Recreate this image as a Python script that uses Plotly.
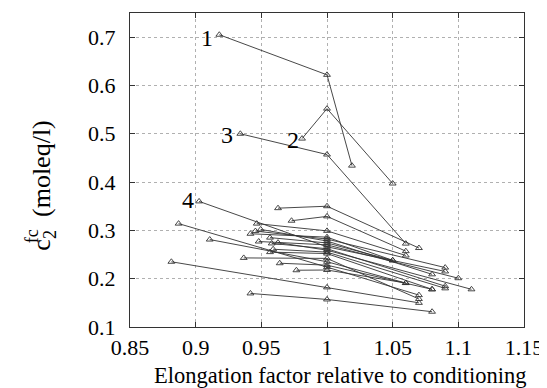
import plotly.graph_objects as go

# Each series: elongation factors (x) and c2 concentration (y)
series_x = [
    [0.918, 1.0, 1.019],   # 1
    [0.981, 1.0, 1.05],    # 2
    [0.934, 1.0, 1.06],    # 3
    [0.9026, 1.0, 1.09],   # 4
    [0.9627, 1.0, 1.07],
    [0.973, 1.0, 1.06],
    [0.9465, 1.0, 1.06],
    [0.887, 1.0, 1.07],
    [0.9417, 1.0, 1.05],
    [0.9455, 1.0, 1.09],
    [0.9495, 1.0, 1.08],
    [0.9107, 1.0, 1.06],
    [0.9566, 1.0, 1.05],
    [0.948, 1.0, 1.10],
    [0.9579, 1.0, 1.09],
    [0.9627, 1.0, 1.11],
    [0.959, 1.0, 1.09],
    [0.9566, 1.0, 1.08],
    [0.9366, 1.0, 1.07],
    [0.964, 1.0, 1.08],
    [0.9767, 1.0, 1.06],
    [0.8815, 1.0, 1.07],
    [0.9417, 1.0, 1.08],
]
series_y = [
    [0.705, 0.622, 0.434],
    [0.490, 0.552, 0.397],
    [0.500, 0.457, 0.2726],
    [0.360, 0.266, 0.215],
    [0.346, 0.350, 0.2635],
    [0.320, 0.329, 0.257],
    [0.314, 0.299, 0.248],
    [0.314, 0.224, 0.166],
    [0.293, 0.286, 0.238],
    [0.2986, 0.282, 0.223],
    [0.302, 0.278, 0.209],
    [0.281, 0.235, 0.191],
    [0.285, 0.274, 0.238],
    [0.277, 0.270, 0.201],
    [0.273, 0.262, 0.1845],
    [0.2746, 0.259, 0.178],
    [0.261, 0.255, 0.180],
    [0.255, 0.252, 0.178],
    [0.243, 0.242, 0.158],
    [0.232, 0.228, 0.178],
    [0.2175, 0.218, 0.191],
    [0.235, 0.182, 0.150],
    [0.1695, 0.157, 0.1316],
]

label_text = ["1", "2", "3", "4"]
label_x = [0.9088, 0.974, 0.9239, 0.8942]
label_y = [0.698, 0.487, 0.497, 0.362]

x_ticks = [0.85, 0.9, 0.95, 1.0, 1.05, 1.1, 1.15]
x_tick_labels = ["0.85", "0.9", "0.95", "1", "1.05", "1.1", "1.15"]
y_ticks = [0.1, 0.2, 0.3, 0.4, 0.5, 0.6, 0.7]
y_tick_labels = ["0.1", "0.2", "0.3", "0.4", "0.5", "0.6", "0.7"]

x_title = "Elongation factor relative to conditioning"

FONT = "Liberation Serif"

fig = go.Figure()
for xs, ys in zip(series_x, series_y):
    fig.add_trace(go.Scatter(
        x=xs, y=ys, mode="lines+markers",
        line=dict(color="#333333", width=0.9),
        marker=dict(symbol="triangle-up-open", size=6, color="#333333",
                    line=dict(width=0.9)),
        showlegend=False, hoverinfo="skip",
    ))

for t, lx, ly in zip(label_text, label_x, label_y):
    fig.add_annotation(x=lx, y=ly, text=t, showarrow=False,
                       font=dict(family=FONT, size=24, color="black"))

# x-axis title (slightly right of plot centre, as in the reference)
fig.add_annotation(xref="paper", yref="paper", x=0.533, y=-0.153,
                   text=x_title, showarrow=False,
                   font=dict(family=FONT, size=22.5, color="black"),
                   xanchor="center", yanchor="middle")

# y-axis title built from annotations (stacked sub/superscript)
fig.add_annotation(xref="paper", yref="paper", x=-0.221, y=0.45,
                   text="c<sub>2</sub>  (moleq/l)", textangle=-90, showarrow=False,
                   font=dict(family=FONT, size=26, color="black"),
                   xanchor="center", yanchor="middle")
fig.add_annotation(xref="paper", yref="paper", x=-0.248, y=0.29,
                   text="fc", textangle=-90, showarrow=False,
                   font=dict(family=FONT, size=18, color="black"),
                   xanchor="center", yanchor="middle")

axis_common = dict(
    showgrid=True, gridcolor="#b0b0b0", griddash="dot", gridwidth=1,
    showline=True, linecolor="#333333", linewidth=1.2, mirror="ticks",
    ticks="inside", ticklen=5, tickcolor="#333333",
    zeroline=False, automargin=False,
    tickfont=dict(family=FONT, size=22, color="black"),
)

fig.update_layout(
    width=539, height=380,
    margin=dict(l=122, r=23, t=5, b=61),
    paper_bgcolor="white", plot_bgcolor="white",
    xaxis=dict(range=[0.85, 1.15], tickvals=x_ticks, ticktext=x_tick_labels,
               **axis_common),
    yaxis=dict(range=[0.1, 0.75], tickvals=y_ticks, ticktext=y_tick_labels,
               ticklabelstandoff=9,
               **axis_common),
)

fig.write_html("out.html")
